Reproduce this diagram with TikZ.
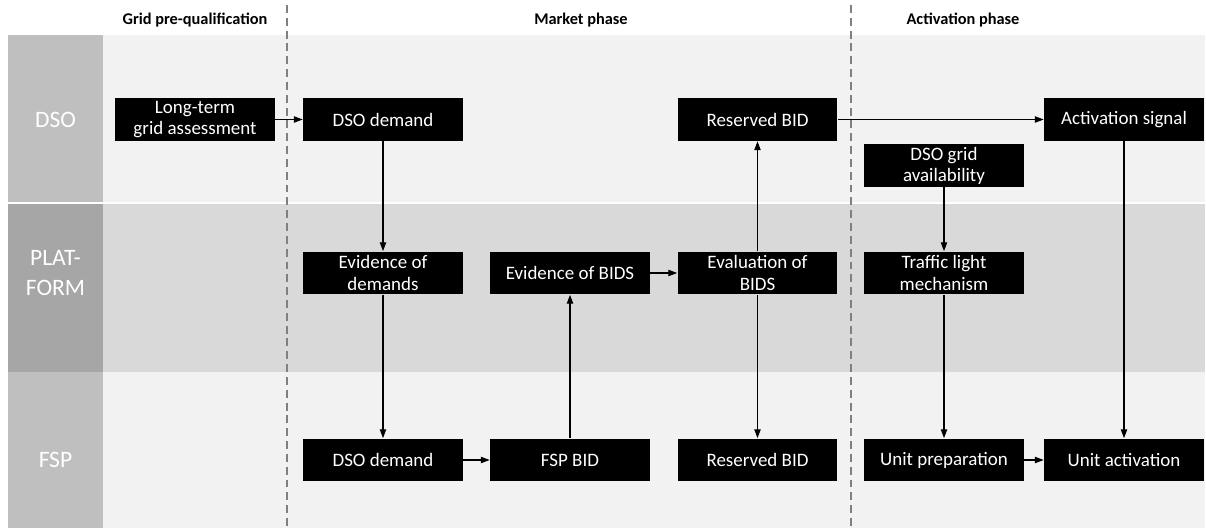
\documentclass[tikz,border=0pt]{standalone}
\usepackage{fontspec}
\setmainfont{Carlito}
\usetikzlibrary{arrows.meta}

\begin{document}
\begin{tikzpicture}[x=0.02cm,y=-0.02cm,
  box/.style={fill=black,text=white,minimum width=3.2cm,minimum height=0.86cm,inner sep=0pt,align=center,font=\fontsize{10.8}{12}\selectfont},
  lane/.style={text=white,align=center,font=\fontsize{13.4}{17}\selectfont},
  phase/.style={font=\bfseries\fontsize{9.3}{11}\selectfont},
  flow/.style={-{Triangle[length=5pt,width=3.6pt]},line width=0.6pt},
  sep/.style={draw=gray,dash pattern=on 4.5pt off 2.8pt,line width=0.7pt}]

\useasboundingbox (0,0) rectangle (1206,530);

\fill[gray!10] (8,35) rectangle (1205,202);
\fill[gray!30] (8,204) rectangle (1205,372);
\fill[gray!10] (8,372) rectangle (1205,528);
\fill[gray!50] (8,35) rectangle (103,202);
\fill[gray!70] (8,204) rectangle (103,372);
\fill[gray!50] (8,372) rectangle (103,528);

\draw[sep] (287,5) -- (287,526);
\draw[sep] (851,5) -- (851,526);

\node[phase] (pre) at (195,20) {Grid pre-qualification};
\node[phase] (market) at (581,20) {Market phase};
\node[phase] (activ) at (963,20) {Activation phase};

\node[lane] (dso) at (55.5,119.5) {DSO};
\node[lane] (plat) at (55.5,273) {PLAT-\\FORM};
\node[lane] (fsp) at (55.5,460) {FSP};

\node[box] (assess) at (195,119.5) {Long-term\\grid assessment};
\node[box] (demand) at (383,119.5) {DSO demand};
\node[box] (resv) at (757.5,119.5) {Reserved BID};
\node[box] (signal) at (1124,119.5) {Activation signal};
\node[box] (avail) at (944,165.5) {DSO grid\\availability};
\node[box] (evdem) at (383,273) {Evidence of\\demands};
\node[box] (evbid) at (570,273) {Evidence of BIDS};
\node[box] (evalb) at (757.5,273) {Evaluation of\\BIDS};
\node[box] (light) at (944,273) {Traffic light\\mechanism};
\node[box] (fdem) at (383,460) {DSO demand};
\node[box] (fbid) at (570,460) {FSP BID};
\node[box] (fresv) at (757.5,460) {Reserved BID};
\node[box] (prep) at (944,460) {Unit preparation};
\node[box] (act) at (1124,460) {Unit activation};

\draw[flow] (assess) -- (demand);
\draw[flow] (demand) -- (evdem);
\draw[flow] (evdem) -- (fdem);
\draw[flow] (fdem) -- (fbid);
\draw[flow] (fbid) -- (evbid);
\draw[flow] (evbid) -- (evalb);
\draw[flow] (evalb) -- (resv);
\draw[flow] (evalb) -- (fresv);
\draw[flow] (resv) -- (signal);
\draw[flow] (avail) -- (light);
\draw[flow] (light) -- (prep);
\draw[flow] (signal) -- (act);
\draw[flow] (prep) -- (act);

\end{tikzpicture}
\end{document}
